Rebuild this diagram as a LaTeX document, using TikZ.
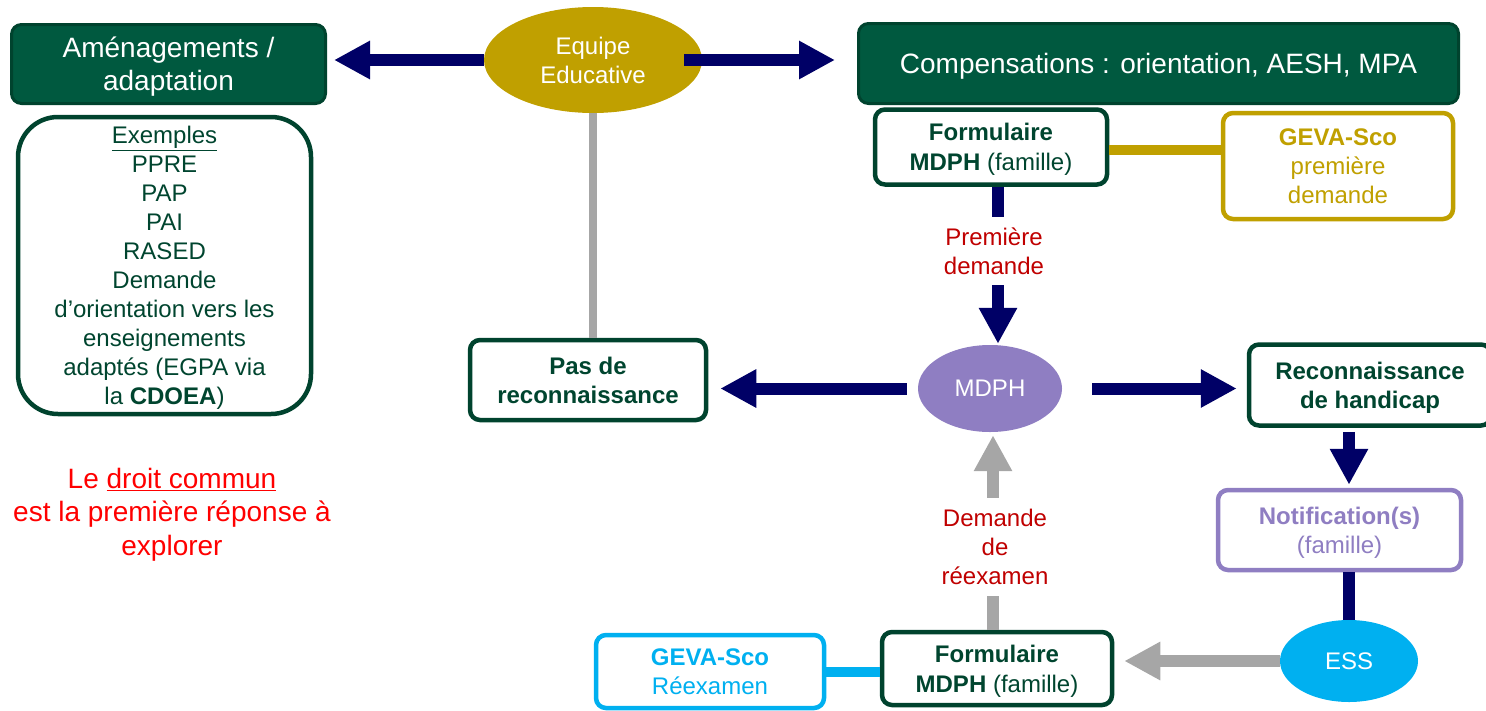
\documentclass[tikz,border=0pt]{standalone}
\usepackage{fontspec}
\setmainfont{Liberation Sans}
\usetikzlibrary{arrows.meta,shapes.geometric}
\definecolor{dkgreen}{HTML}{00593F}
\definecolor{dkborder}{HTML}{00432E}
\definecolor{txtgreen}{HTML}{00452F}
\definecolor{goldc}{HTML}{C0A000}
\definecolor{navyc}{HTML}{000066}
\definecolor{grayc}{HTML}{A6A6A6}
\definecolor{purpc}{HTML}{8F7EC2}
\definecolor{cyanc}{HTML}{00B0F0}
\definecolor{dkred}{HTML}{C00000}
\definecolor{brred}{HTML}{FF0000}
\begin{document}
\begin{tikzpicture}[x=1pt,y=-1pt,
  bigf/.style={font=\fontsize{28}{33}\selectfont},
  medf/.style={font=\fontsize{24}{29}\selectfont},
  formf/.style={font=\fontsize{24}{30}\selectfont},
  header/.style={draw=dkborder, line width=3pt, fill=dkgreen, rounded corners=10pt, text=white, bigf, align=center, inner sep=0pt, text depth=0pt},
  wbox/.style={draw=dkborder, line width=4.5pt, fill=white, rounded corners=10pt, text=txtgreen, medf, align=center, inner sep=0pt, text depth=0pt},
  oval/.style={ellipse, text=white, medf, align=center, inner sep=0pt},
  arrowN/.style={draw=navyc, line width=12pt, -{Triangle[length=36pt,width=36pt]}},
  arrowG/.style={draw=grayc, line width=12pt, -{Triangle[length=36pt,width=36pt]}},
  lbl/.style={fill=white, text=dkred, medf, align=center, inner xsep=4pt, inner ysep=11pt}
]
\useasboundingbox (0,0) rectangle (1486,710);

% nodes
\node[header, minimum width=314pt, minimum height=79pt] (amen) at (168.5,64) {Aménagements /\\adaptation};
\node[wbox, rounded corners=40pt, minimum width=293pt, minimum height=297pt] (ex) at (164.5,265.5)
  {\underline{Exemples}\\PPRE\\PAP\\PAI\\RASED\\Demande\\d’orientation vers les\\enseignements\\adaptés (EGPA via\\la \textbf{CDOEA})};
\node[text=brred, font=\fontsize{28}{33.5}\selectfont, align=center] (droit) at (172,514.5)
  {Le \underline{droit commun}\\est la première réponse à\\explorer};

\node[oval, fill=goldc, minimum width=218pt, minimum height=106pt] (eq) at (593,60) {Equipe\\Educative};
\node[header, minimum width=600pt, minimum height=80pt] (comp) at (1158.5,63.5) {Compensations : orientation, AESH, MPA};

\node[wbox, formf, minimum width=232pt, minimum height=75pt] (form1) at (991,147)
  {\textbf{Formulaire}\\\textbf{MDPH} (famille)};
\node[wbox, draw=goldc, text=goldc, minimum width=230pt, minimum height=106pt] (geva1) at (1338,166)
  {\textbf{GEVA-Sco}\\première\\demande};

\node[oval, fill=purpc, minimum width=144pt, minimum height=87pt] (mdph) at (990,388.5) {MDPH};
\node[wbox, minimum width=236pt, minimum height=80pt] (pas) at (588,380)
  {\textbf{Pas de}\\\textbf{reconnaissance}};
\node[wbox, minimum width=242pt, minimum height=81pt] (rec) at (1370,385)
  {\textbf{Reconnaissance}\\\textbf{de handicap}};
\node[wbox, draw=purpc, text=purpc, minimum width=243pt, minimum height=80pt] (notif) at (1339.5,530)
  {\textbf{Notification(s)}\\(famille)};
\node[oval, fill=cyanc, minimum width=138pt, minimum height=82pt] (ess) at (1349,661) {ESS};
\node[wbox, formf, minimum width=230pt, minimum height=73pt] (form2) at (997,668.5)
  {\textbf{Formulaire}\\\textbf{MDPH} (famille)};
\node[wbox, draw=cyanc, text=cyanc, minimum width=228pt, minimum height=73pt] (geva2) at (710,671.5)
  {\textbf{GEVA-Sco}\\Réexamen};

% connectors
\draw[arrowN, shorten >=7pt] (eq.west) -- (eq.west -| amen.east);
\draw[arrowN, shorten >=22pt] ([xshift=-18pt]eq.east) -- (eq.east -| comp.west);
\draw[grayc, line width=8pt] (eq.south) -- (eq.south |- pas.north);
\draw[goldc, line width=10pt] ([yshift=-3pt]form1.east) -- ([yshift=-3pt]form1.east -| geva1.west);
\draw[arrowN, shorten >=1pt] ([xshift=7pt]form1.south) -- ([xshift=7pt]form1.south |- mdph.north);
\node[lbl] (lbl1) at (994,251) {Première\\demande};
\draw[arrowN, shorten >=12pt] ([xshift=-11pt]mdph.west) -- (mdph.west -| pas.east);
\draw[arrowN, shorten <=30pt, shorten >=10pt] (mdph.east) -- (mdph.east -| rec.west);
\draw[arrowN, shorten <=4pt, shorten >=3pt] (rec.south -| ess.north) -- (notif.north -| ess.north);
\draw[navyc, line width=12pt] (notif.south -| ess.north) -- (ess.north);
\draw[arrowG, shorten >=10pt] (ess.west) -- (ess.west -| form2.east);
\draw[cyanc, line width=10pt] (geva2.east) -- (geva2.east -| form2.west);
\draw[arrowG, shorten >=3pt] ([xshift=-4pt]form2.north) -- ([xshift=-4pt]form2.north |- mdph.south);
\node[lbl] (lbl2) at (995,547) {Demande\\de\\réexamen};
\end{tikzpicture}
\end{document}
